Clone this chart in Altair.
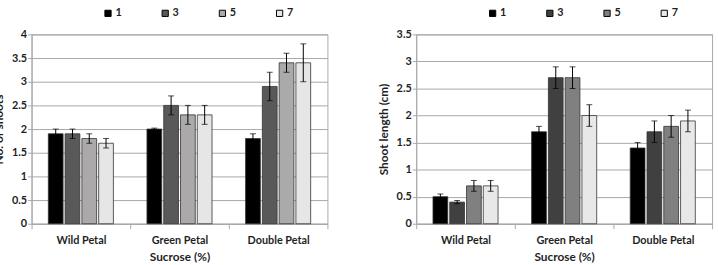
import altair as alt
import pandas as pd

# Categories
groups = ["Wild Petal", "Green Petal", "Double Petal"]
levels = ["1", "3", "5", "7"]

# Number of shoots (mean and error) per group, ordered by sucrose level
shoots_mean = [[1.9, 1.9, 1.8, 1.7], [2.0, 2.5, 2.3, 2.3], [1.8, 2.9, 3.4, 3.4]]
shoots_err = [[0.1, 0.1, 0.1, 0.1], [0.02, 0.2, 0.2, 0.2], [0.1, 0.3, 0.2, 0.4]]

# Shoot length in cm (mean and error)
length_mean = [[0.5, 0.4, 0.7, 0.7], [1.7, 2.7, 2.7, 2.0], [1.4, 1.7, 1.8, 1.9]]
length_err = [[0.05, 0.03, 0.1, 0.1], [0.1, 0.2, 0.2, 0.2], [0.1, 0.2, 0.2, 0.2]]

shoots_ticks = [0, 0.5, 1, 1.5, 2, 2.5, 3, 3.5, 4]
length_ticks = [0, 0.5, 1, 1.5, 2, 2.5, 3, 3.5]

shoots_colors = ["#000000", "#595959", "#aba9a9", "#e6e6e6"]
length_colors = ["#000000", "#404040", "#808080", "#e8e8e8"]

FONT = "Lato"
TEXT = "#1f1f1f"
GRID = "#a8a8a8"


def build_table(mean, err):
    rows = []
    for gi, g in enumerate(groups):
        for li, lv in enumerate(levels):
            m = mean[gi][li]
            e = err[gi][li]
            rows.append({"group": g, "level": lv, "mean": m, "lo": m - e, "hi": m + e})
    return pd.DataFrame(rows)


def panel(mean, err, colors, ytitle, ymax, ticks):
    df = build_table(mean, err)
    base = alt.Chart(df)

    x = alt.X(
        "group:N",
        sort=groups,
        scale=alt.Scale(paddingInner=0, paddingOuter=0),
        axis=alt.Axis(
            title="Sucrose (%)",
            labelAngle=0,
            tickBand="extent",
            tickSize=5,
            tickColor=GRID,
            domainColor=GRID,
            labelPadding=6,
            titlePadding=6,
        ),
    )
    xo = alt.XOffset("level:N", sort=levels, scale=alt.Scale(paddingInner=0.12, paddingOuter=1.0))
    yaxis = alt.Axis(
        title=ytitle,
        values=ticks,
        format="~g",
        gridColor=GRID,
        domainColor=GRID,
        tickColor=GRID,
        tickSize=4,
        labelPadding=1,
        titlePadding=6,
    )
    yscale = alt.Scale(domain=[0, ymax], nice=False)

    bars = base.mark_bar(stroke="#333333", strokeWidth=0.8).encode(
        x=x,
        xOffset=xo,
        y=alt.Y("mean:Q", scale=yscale, axis=yaxis),
        color=alt.Color(
            "level:N",
            sort=levels,
            scale=alt.Scale(domain=levels, range=colors),
            legend=alt.Legend(
                title=None,
                orient="none",
                legendX=72,
                legendY=-27,
                direction="horizontal",
                symbolType="square",
                symbolSize=40,
                symbolStrokeColor="#000000",
                symbolStrokeWidth=1,
                labelOffset=2,
                columnPadding=38,
            ),
        ),
    )
    stems = base.mark_rule(color="#000000", strokeWidth=1).encode(
        x=x, xOffset=xo, y=alt.Y("lo:Q", scale=yscale, axis=yaxis), y2="hi:Q"
    )
    cap_lo = base.mark_tick(orient="horizontal", size=6, thickness=1, color="#000000").encode(
        x=x, xOffset=xo, y=alt.Y("lo:Q", scale=yscale, axis=yaxis)
    )
    cap_hi = base.mark_tick(orient="horizontal", size=6, thickness=1, color="#000000").encode(
        x=x, xOffset=xo, y=alt.Y("hi:Q", scale=yscale, axis=yaxis)
    )
    return alt.layer(bars, stems, cap_lo, cap_hi).properties(width=300, height=192)


left = panel(shoots_mean, shoots_err, shoots_colors, "No. of shoots", 4, shoots_ticks)
right = panel(length_mean, length_err, length_colors, "Shoot length (cm)", 3.5, length_ticks)

chart = (
    alt.hconcat(left, right, spacing=49)
    .resolve_scale(color="independent", y="independent", x="independent", xOffset="independent")
    .resolve_legend(color="independent")
    .properties(padding={"left": -8, "top": 5, "right": 5, "bottom": 2}, background="white")
    .configure_view(stroke=GRID, strokeWidth=1)
    .configure_axis(
        labelFont=FONT,
        titleFont=FONT,
        labelFontWeight="bold",
        titleFontWeight="bold",
        labelFontSize=11,
        titleFontSize=12,
        labelColor=TEXT,
        titleColor=TEXT,
    )
    .configure_legend(labelFont=FONT, labelFontWeight="bold", labelFontSize=11, labelColor=TEXT)
)

chart.save("out.html", embed_options={"renderer": "svg", "actions": False})
